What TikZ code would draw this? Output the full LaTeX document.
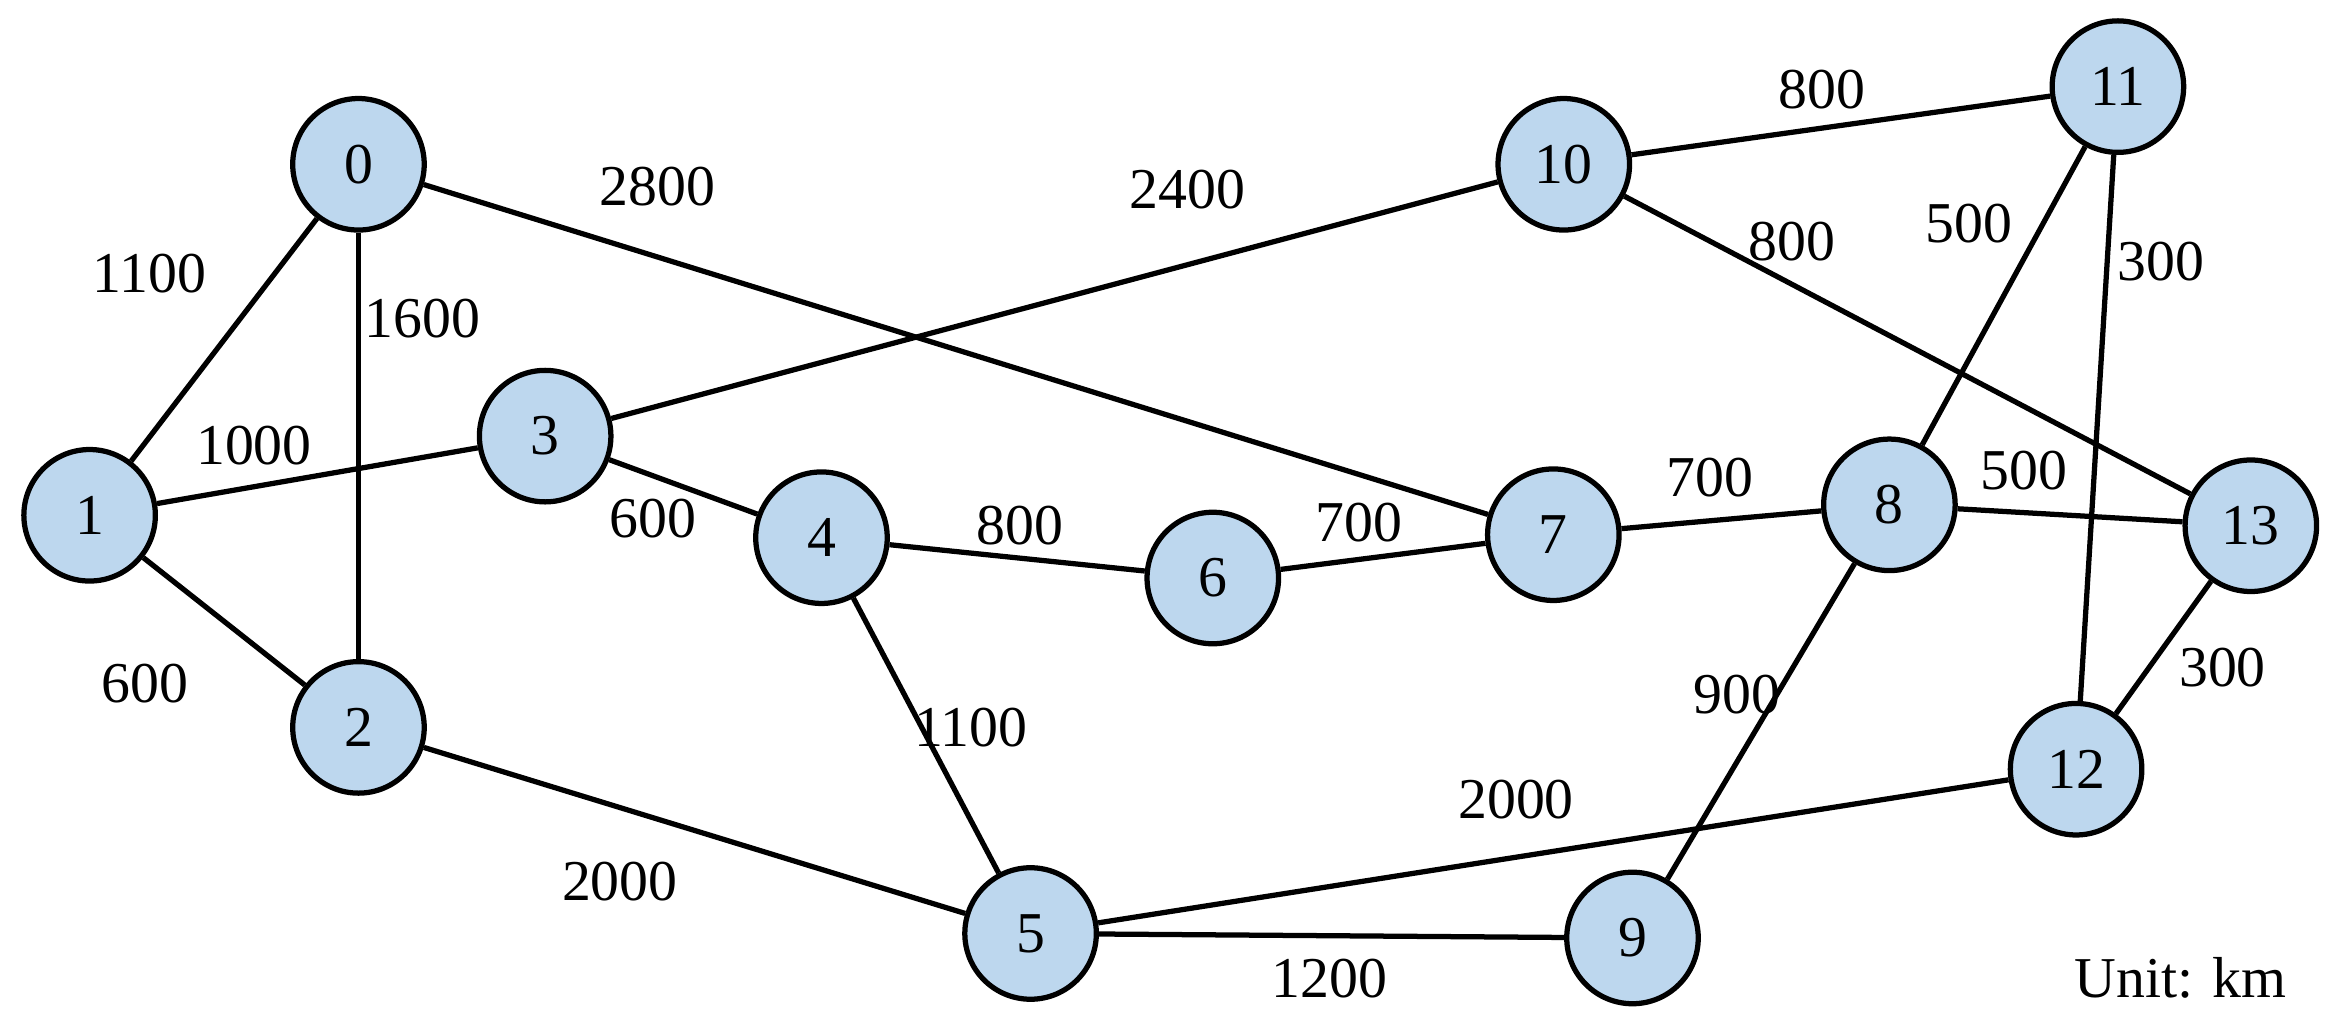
\documentclass[tikz,border=0pt]{standalone}
\usepackage{fontspec}
\setmainfont{Liberation Serif}
\definecolor{nodeblue}{RGB}{189,215,238}
\begin{document}
\begin{tikzpicture}[
      x=0.01cm, y=-0.01cm,
      font=\fontsize{11}{13}\selectfont,
      city/.style={circle, draw=black, line width=1pt, fill=nodeblue, minimum size=0.88cm, inner sep=0pt},
      link/.style={draw=black, line width=1pt},
      dist/.style={inner sep=1pt}
    ]
      \useasboundingbox (0,0) rectangle (1560,685);

      % cities
      \node[city] (n0) at (240,110) {0};
      \node[city] (n1) at (60,345) {1};
      \node[city] (n2) at (240,487) {2};
      \node[city] (n3) at (365,292) {3};
      \node[city] (n4) at (550,360) {4};
      \node[city] (n5) at (690,625) {5};
      \node[city] (n6) at (812,387) {6};
      \node[city] (n7) at (1040,358) {7};
      \node[city] (n8) at (1265,338) {8};
      \node[city] (n9) at (1093,628) {9};
      \node[city] (n10) at (1047,110) {10};
      \node[city] (n11) at (1418,58) {11};
      \node[city] (n12) at (1390,515) {12};
      \node[city] (n13) at (1507,352) {13};

      % links
      \foreach \a/\b in {n0/n1, n0/n2, n0/n7, n1/n3, n1/n2, n3/n10, n3/n4,
          n4/n6, n4/n5, n2/n5, n6/n7, n7/n8, n5/n9, n5/n12, n8/n13,
          n8/n9, n10/n11, n10/n13, n11/n8, n11/n12, n12/n13}
        \draw[link] (\a) -- (\b);

      % distances
      \node[dist] (d01) at (100,183) {1100};
      \node[dist] (d02) at (283,213) {1600};
      \node[dist] (d07) at (440,125) {2800};
      \node[dist] (d13) at (170,298) {1000};
      \node[dist] (d12) at (97,458) {600};
      \node[dist] (d310) at (795,127) {2400};
      \node[dist] (d34) at (437,347) {600};
      \node[dist] (d46) at (683,352) {800};
      \node[dist] (d45) at (650,487) {1100};
      \node[dist] (d25) at (415,590) {2000};
      \node[dist] (d67) at (910,350) {700};
      \node[dist] (d78) at (1145,320) {700};
      \node[dist] (d59) at (890,655) {1200};
      \node[dist] (d512) at (1015,535) {2000};
      \node[dist] (d813) at (1355,315) {500};
      \node[dist] (d89) at (1163,465) {900};
      \node[dist] (d1011) at (1220,60) {800};
      \node[dist] (d1013) at (1200,162) {800};
      \node[dist] (d118) at (1318,150) {500};
      \node[dist] (d1112) at (1447,175) {300};
      \node[dist] (d1213) at (1488,447) {300};

      \node (unit) at (1460,655) {Unit: km};
    \end{tikzpicture}
\end{document}
